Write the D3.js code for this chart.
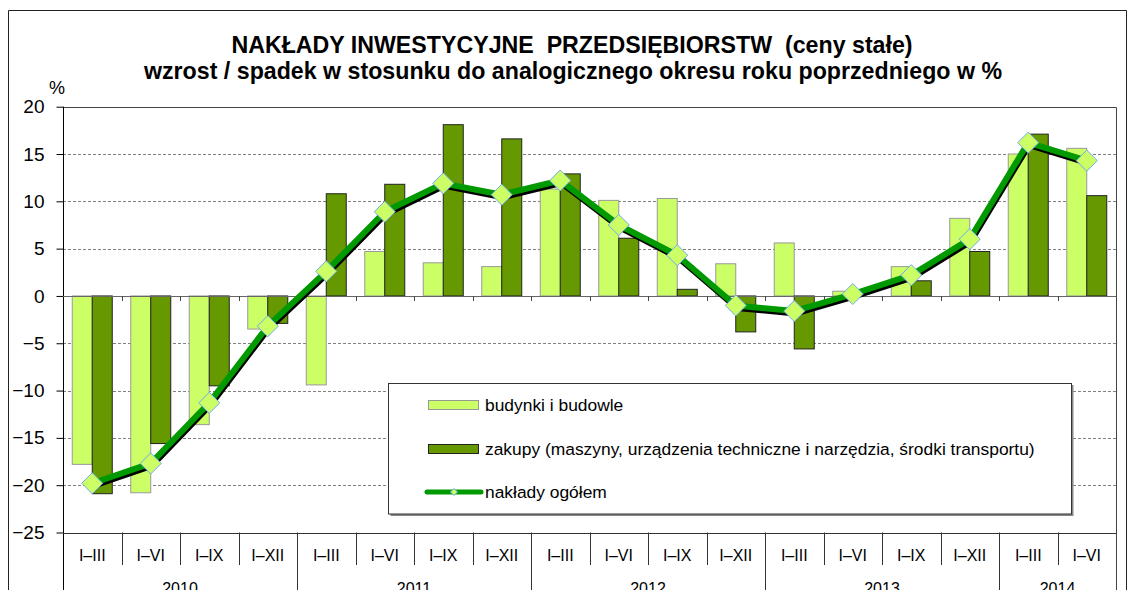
<!DOCTYPE html>
<html>
<head>
<meta charset="utf-8">
<script src="https://cdn.jsdelivr.net/npm/d3@7"></script>
<style>
  html, body { margin: 0; padding: 0; background: #fff; }
  svg { display: block; font-family: "Liberation Sans", Arial, sans-serif; }
</style>
</head>
<body>
<svg id="chart" width="1130" height="590"></svg>
<script>
// Period labels (cumulative quarters) and year groups
const periods = ["I–III","I–VI","I–IX","I–XII","I–III","I–VI","I–IX","I–XII","I–III","I–VI","I–IX","I–XII","I–III","I–VI","I–IX","I–XII","I–III","I–VI"];
const years = ["2010","2011","2012","2013","2014"];
const yearSpans = [4, 4, 4, 4, 2];

// Year-on-year change, %
const budynki = [-17.8, -20.8, -13.6, -3.5, -9.4, 4.7, 3.5, 3.1, 11.3, 10.1, 10.3, 3.4, 5.6, 0.5, 3.1, 8.2, 15.0, 15.6];
const zakupy  = [-20.9, -15.6, -9.5, -2.9, 10.8, 11.8, 18.1, 16.6, 12.9, 6.1, 0.7, -3.8, -5.6, 0.0, 1.6, 4.7, 17.1, 10.6];
const ogolem  = [-19.8, -17.7, -11.3, -3.2, 2.6, 8.9, 11.9, 10.7, 12.2, 7.5, 4.3, -1.0, -1.6, 0.2, 2.2, 6.0, 16.2, 14.3];

const yTicks = [20, 15, 10, 5, 0, -5, -10, -15, -20, -25];

const seriesNames = [
  "budynki i budowle",
  "zakupy (maszyny, urządzenia techniczne i narzędzia, środki transportu)",
  "nakłady ogółem"
];

const colLight = "#ccff66", colDark = "#669900", colLine = "#009900";

const svg = d3.select("#chart");
const plotL = 63, plotR = 1116, plotT = 106.7, plotB = 532.5;

const x = d3.scaleBand().domain(d3.range(periods.length)).range([plotL, plotR]).padding(0);
const x1 = d3.scaleBand().domain(["b", "z"]).range([0, x.bandwidth()]).paddingInner(0).paddingOuter(0.4625);
const y = d3.scaleLinear().domain([-25, 20]).range([plotB, plotT]);

// outer frame
svg.append("path")
  .attr("d", `M8.5,590 V10.5 H1126.5 V590`)
  .attr("fill", "none").attr("stroke", "#222").attr("stroke-width", 1);

// titles
svg.append("text").attr("x", 572).attr("y", 53).attr("text-anchor", "middle")
  .attr("font-weight", "bold").attr("font-size", 23.2).style("white-space", "pre")
  .text("NAKŁADY INWESTYCYJNE  PRZEDSIĘBIORSTW  (ceny stałe)");
svg.append("text").attr("x", 573).attr("y", 79).attr("text-anchor", "middle")
  .attr("font-weight", "bold").attr("font-size", 23.2)
  .text("wzrost / spadek w stosunku do analogicznego okresu roku poprzedniego w %");
svg.append("text").attr("x", 57).attr("y", 94).attr("text-anchor", "middle")
  .attr("font-size", 18).text("%");

// horizontal gridlines
svg.append("g").selectAll("line").data(yTicks.filter(v => v !== 0 && v !== 20 && v !== -25)).join("line")
  .attr("x1", plotL).attr("x2", plotR)
  .attr("y1", d => Math.round(y(d)) + 0.5).attr("y2", d => Math.round(y(d)) + 0.5)
  .attr("stroke", "#808080").attr("stroke-width", 1).attr("stroke-dasharray", "3,2");

// plot frame top and right
svg.append("path")
  .attr("d", `M${plotL},${Math.round(plotT) + 0.5} H${plotR + 0.5} V590`)
  .attr("fill", "none").attr("stroke", "#444").attr("stroke-width", 1);

// left value axis
const yAxis = d3.axisLeft(y).tickValues(yTicks).tickSize(7).tickPadding(12).tickFormat(d3.format("d"));
const gy = svg.append("g").attr("transform", `translate(${plotL + 0.5},0)`).call(yAxis);
gy.select(".domain").remove();
gy.selectAll(".tick line").attr("stroke", "#000");
gy.selectAll(".tick text").attr("font-size", 19).attr("font-family", "Liberation Sans, Arial, sans-serif").attr("fill", "#000");
svg.append("line").attr("x1", plotL + 0.5).attr("x2", plotL + 0.5).attr("y1", plotT).attr("y2", 590)
  .attr("stroke", "#000");

// bars
const gb = svg.append("g");
gb.selectAll("rect.b").data(budynki).join("rect").attr("class", "b")
  .attr("x", (d, i) => x(i) + x1("b"))
  .attr("width", x1.bandwidth())
  .attr("y", d => y(Math.max(0, d)))
  .attr("height", d => Math.abs(y(d) - y(0)))
  .attr("fill", colLight).attr("stroke", "#999").attr("stroke-width", 1);
gb.selectAll("rect.z").data(zakupy).join("rect").attr("class", "z")
  .attr("x", (d, i) => x(i) + x1("z"))
  .attr("width", x1.bandwidth())
  .attr("y", d => y(Math.max(0, d)))
  .attr("height", d => Math.abs(y(d) - y(0)))
  .attr("fill", colDark).attr("stroke", "#222").attr("stroke-width", 1);

// zero line with category tick marks
svg.append("line").attr("x1", plotL).attr("x2", plotR)
  .attr("y1", Math.round(y(0)) + 0.5).attr("y2", Math.round(y(0)) + 0.5)
  .attr("stroke", "#666").attr("stroke-width", 1.2);
svg.append("g").selectAll("line").data(d3.range(1, periods.length)).join("line")
  .attr("x1", i => Math.round(x(i)) + 0.5).attr("x2", i => Math.round(x(i)) + 0.5)
  .attr("y1", y(0)).attr("y2", y(0) + 5).attr("stroke", "#444");

// total line with shadow and diamond markers
const line = d3.line().x((d, i) => x(i) + x.bandwidth() / 2).y(d => y(d));
svg.append("path").datum(ogolem).attr("d", line)
  .attr("transform", "translate(1,3)")
  .attr("fill", "none").attr("stroke", "#000").attr("stroke-width", 5).attr("stroke-linejoin", "round");
svg.append("path").datum(ogolem).attr("d", line)
  .attr("fill", "none").attr("stroke", colLine).attr("stroke-width", 6).attr("stroke-linejoin", "round");
const diamond = s => `M0,${-s} L${s},0 L0,${s} L${-s},0 Z`;
svg.append("g").selectAll("path").data(ogolem).join("path")
  .attr("transform", (d, i) => `translate(${x(i) + x.bandwidth() / 2},${y(d)})`)
  .attr("d", diamond(10.5))
  .attr("fill", colLight).attr("stroke", "#6fa8f0").attr("stroke-width", 1);

// category axis at the bottom
svg.append("line").attr("x1", plotL).attr("x2", plotR)
  .attr("y1", Math.round(plotB) + 0.5).attr("y2", Math.round(plotB) + 0.5)
  .attr("stroke", "#333");
const yearStarts = [];
{ let s = 0; yearSpans.forEach(n => { yearStarts.push(s); s += n; }); }
const yearBounds = new Set(yearStarts.concat([periods.length]));
svg.append("g").selectAll("line").data(d3.range(1, periods.length).filter(i => !yearBounds.has(i))).join("line")
  .attr("x1", i => Math.round(x(i)) + 0.5).attr("x2", i => Math.round(x(i)) + 0.5)
  .attr("y1", plotB).attr("y2", 565).attr("stroke", "#333");
svg.append("g").selectAll("line").data(yearStarts.filter(i => i > 0)).join("line")
  .attr("x1", i => Math.round(x(i)) + 0.5).attr("x2", i => Math.round(x(i)) + 0.5)
  .attr("y1", plotB).attr("y2", 590).attr("stroke", "#333");
svg.append("g").selectAll("text").data(periods).join("text")
  .attr("x", (d, i) => x(i) + x.bandwidth() / 2).attr("y", 561)
  .attr("text-anchor", "middle").attr("font-size", 16).text(d => d);
svg.append("g").selectAll("text").data(years).join("text")
  .attr("x", (d, k) => (x(yearStarts[k]) + (yearStarts[k] + yearSpans[k] < periods.length ? x(yearStarts[k] + yearSpans[k]) : plotR)) / 2)
  .attr("y", 594).attr("text-anchor", "middle").attr("font-size", 16).text(d => d);

// legend
const lg = svg.append("g");
lg.append("rect").attr("x", 390.5).attr("y", 385).attr("width", 683).attr("height", 131).attr("fill", "#888");
lg.append("rect").attr("x", 388.5).attr("y", 383.5).attr("width", 683).attr("height", 130.5)
  .attr("fill", "#fff").attr("stroke", "#333");
const rowY = [405, 449, 492];
lg.append("rect").attr("x", 428.5).attr("y", rowY[0] - 4.5).attr("width", 50).attr("height", 9)
  .attr("fill", colLight).attr("stroke", "#999");
lg.append("rect").attr("x", 428.5).attr("y", rowY[1] - 4.5).attr("width", 50).attr("height", 9)
  .attr("fill", colDark).attr("stroke", "#222");
lg.append("line").attr("x1", 427).attr("x2", 481).attr("y1", rowY[2]).attr("y2", rowY[2])
  .attr("stroke", colLine).attr("stroke-width", 5).attr("stroke-linecap", "round");
lg.append("path").attr("transform", `translate(454,${rowY[2]})`).attr("d", diamond(3.5))
  .attr("fill", colLight).attr("stroke", "#6fa8f0");
lg.selectAll("text").data(seriesNames).join("text")
  .attr("x", 485).attr("y", (d, i) => rowY[i] + 6)
  .attr("font-size", 17.4).text(d => d);
</script>
</body>
</html>
